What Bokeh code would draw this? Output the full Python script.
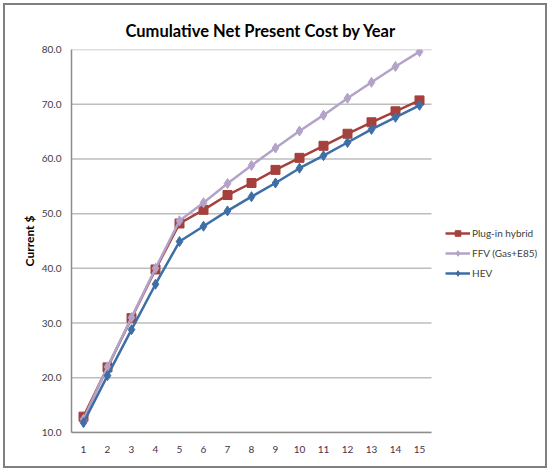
from bokeh.plotting import figure
from bokeh.models import Legend, LegendItem, FixedTicker, NumeralTickFormatter, Range1d
from bokeh.embed import file_html
from bokeh.resources import INLINE

years = list(range(1, 16))
plugin = [12.9, 21.9, 30.9, 39.8, 48.2, 50.7, 53.4, 55.6, 58.0, 60.2, 62.4, 64.6, 66.7, 68.7, 70.7]
ffv = [12.4, 22.0, 31.0, 40.0, 48.7, 52.0, 55.5, 58.8, 62.0, 65.1, 68.0, 71.1, 74.0, 76.9, 79.6]
hev = [11.8, 20.4, 28.8, 37.1, 44.9, 47.7, 50.5, 53.1, 55.6, 58.3, 60.6, 63.0, 65.4, 67.6, 69.8]
y_ticks = [10, 20, 30, 40, 50, 60, 70, 80]
names = ["Plug-in hybrid", "FFV (Gas+E85)", "HEV"]

FONT = "Lato"
RED = "#A5403D"
LAV = "#B3A3C9"
BLUE = "#3E6EA6"

W, H = 534, 455
BL, BT, BB = 63, 41, 31
frame_w = W - BL
x_lo, x_hi = years[0] - 0.5, years[-1] + 0.5
data_w = 360.0  # pixels occupied by the category axis
x_end = x_lo + (x_hi - x_lo) * frame_w / data_w

p = figure(width=W, height=H, output_backend="svg", toolbar_location=None,
           x_range=Range1d(x_lo, x_end), y_range=Range1d(y_ticks[0], y_ticks[-1]),
           min_border_left=BL, min_border_right=0, min_border_top=BT, min_border_bottom=BB,
           margin=(8, 8, 8, 8))
p.styles = {"outline": "2px solid #7f7f7f", "outline-offset": "3px"}

p.title.text = "Cumulative Net Present Cost by Year"
p.title.text_font = FONT
p.title.text_font_size = "16.5px"
p.title.text_font_style = "bold"
p.title.text_color = "#000000"
p.title.align = "left"
p.title.offset = 54
p.title.standoff = 18

p.outline_line_color = None
p.background_fill_color = "white"
p.border_fill_color = "white"

p.xgrid.grid_line_color = None
p.ygrid.grid_line_color = None
p.segment(x0=x_lo, x1=x_hi, y0=y_ticks, y1=y_ticks, line_color="#BDBDBD", line_width=1.5)

p.xaxis.ticker = FixedTicker(ticks=years)
p.xaxis.bounds = (x_lo, x_hi)
p.yaxis.ticker = FixedTicker(ticks=y_ticks)
p.yaxis.formatter = NumeralTickFormatter(format="0.0")
for ax in (p.xaxis[0], p.yaxis[0]):
    ax.axis_line_color = "#8C8C8C"
    ax.axis_line_width = 1.5
    ax.major_tick_line_color = None
    ax.minor_tick_line_color = None
    ax.major_tick_out = 0
    ax.major_tick_in = 0
    ax.major_label_text_font = FONT
    ax.major_label_text_font_size = "10px"
p.yaxis.major_label_text_color = "#404040"
p.xaxis.major_label_text_color = "#4A2F4A"
p.yaxis.major_label_standoff = 10
p.xaxis.major_label_standoff = 13
p.yaxis.axis_label = "Current $"
p.yaxis.axis_label_text_font = FONT
p.yaxis.axis_label_text_font_size = "12px"
p.yaxis.axis_label_text_font_style = "bold"
p.yaxis.axis_label_text_color = "#000000"
p.yaxis.axis_label_standoff = 2

r1 = p.line(years, plugin, line_color=RED, line_width=2.5)
m1 = p.scatter(years, plugin, marker="square", size=9, fill_color=RED, line_color=RED)
r2 = p.line(years, ffv, line_color=LAV, line_width=2.5)
m2 = p.scatter(years, ffv, marker="diamond", size=10, fill_color=LAV, line_color=LAV)
r3 = p.line(years, hev, line_color=BLUE, line_width=2.5)
m3 = p.scatter(years, hev, marker="diamond", size=10, fill_color=BLUE, line_color=BLUE)

legend = Legend(items=[LegendItem(label=names[0], renderers=[r1, m1]),
                       LegendItem(label=names[1], renderers=[r2, m2]),
                       LegendItem(label=names[2], renderers=[r3, m3])],
                location=(374, 152), orientation="vertical")
legend.border_line_color = None
legend.background_fill_alpha = 0
legend.padding = 0
legend.margin = 0
legend.spacing = 6
legend.glyph_width = 25
legend.glyph_height = 14
legend.label_standoff = 2
legend.label_height = 14
legend.label_text_font = FONT
legend.label_text_font_size = "10px"
legend.label_text_color = "#404040"
p.add_layout(legend, "center")

open("out.html", "w").write(file_html(p, INLINE))
